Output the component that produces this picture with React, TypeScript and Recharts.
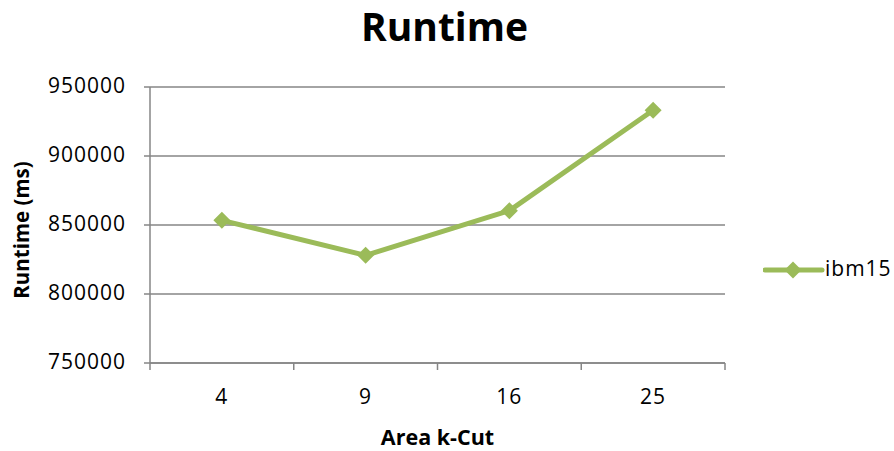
import React from 'react';
import { LineChart, Line, XAxis, YAxis, CartesianGrid } from 'recharts';

const categories = ['4', '9', '16', '25'];
const ibm15 = [853400, 828000, 860400, 933100];
const yTicks = [750000, 800000, 850000, 900000, 950000];
const seriesName = 'ibm15';

const data = categories.map((c, i) => ({ name: c, ibm15: ibm15[i] }));

const GREEN = '#9BBB59';
const GRAY = '#868686';
const FONT = '"Open Sans", sans-serif';

const W = 894;
const H = 451;
const PLOT_LEFT = 150;
const PLOT_RIGHT = 725;
const PLOT_TOP = 87;
const PLOT_BOTTOM = 363;
const BAND = (PLOT_RIGHT - PLOT_LEFT) / categories.length;

const Diamond = (props: any) => {
  const { cx, cy, index } = props;
  if (cx == null || cy == null) return <g key={index} />;
  const s = 8.5;
  return (
    <path
      key={index}
      d={`M${cx},${cy - s}L${cx + s},${cy}L${cx},${cy + s}L${cx - s},${cy}Z`}
      fill={GREEN}
    />
  );
};

const XTick = (props: any) => {
  const { x, y, payload, index } = props;
  const last = index === categories.length - 1;
  return (
    <g>
      <line x1={x - BAND / 2} y1={y} x2={x - BAND / 2} y2={y + 7} stroke={GRAY} strokeWidth={1.5} />
      {last && <line x1={x + BAND / 2} y1={y} x2={x + BAND / 2} y2={y + 7} stroke={GRAY} strokeWidth={1.5} />}
      <text x={x} y={y + 35} textAnchor="middle" dominantBaseline="middle" fontSize={21} letterSpacing={1} fill="#000" fontFamily={FONT}>
        {payload.value}
      </text>
    </g>
  );
};

const YTick = (props: any) => {
  const { y, payload } = props;
  return (
    <g>
      <line x1={PLOT_LEFT - 6} y1={y} x2={PLOT_LEFT} y2={y} stroke={GRAY} strokeWidth={1.5} />
      <text x={126} y={y} textAnchor="end" dominantBaseline="middle" fontSize={21} letterSpacing={1} fill="#000" fontFamily={FONT}>
        {payload.value}
      </text>
    </g>
  );
};

const YLabel = () => (
  <text
    x={24}
    y={230}
    transform="rotate(-90, 24, 230)"
    textAnchor="middle"
    dominantBaseline="middle"
    fontSize={20.5}
    fontWeight={700}
    fill="#000"
    fontFamily={FONT}
  >
    Runtime (ms)
  </text>
);

export default function App() {
  return (
    <div style={{ position: 'absolute', left: 0, top: 0, width: W, height: H, background: '#fff', fontFamily: FONT }}>
      <div style={{ position: 'absolute', left: 0, top: 0, width: 889, textAlign: 'center', fontSize: 39, fontWeight: 700, lineHeight: '52px' }}>
        Runtime
      </div>
      <svg style={{ position: 'absolute', left: 763, top: 255 }} width={131} height={30}>
        <line x1={2} y1={15} x2={59} y2={15} stroke={GREEN} strokeWidth={5} strokeLinecap="round" />
        <path d="M30,6.5L38.5,15L30,23.5L21.5,15Z" fill={GREEN} />
        <text x={62} y={15} dominantBaseline="middle" fontSize={21} letterSpacing={1} fontFamily={FONT} fill="#000">{seriesName}</text>
      </svg>
      <LineChart
        width={W}
        height={H}
        data={data}
        margin={{ top: PLOT_TOP, right: W - PLOT_RIGHT, bottom: 0, left: PLOT_LEFT - 100 }}
      >
        <CartesianGrid horizontal vertical={false} stroke={GRAY} strokeWidth={1.5} />
        <XAxis
          dataKey="name"
          stroke={GRAY}
          strokeWidth={1.5}
          padding={{ left: BAND / 2, right: BAND / 2 }}
          tickLine={false}
          tickSize={0}
          tickMargin={0}
          height={H - PLOT_BOTTOM}
          tick={<XTick />}
          label={{ value: 'Area k-Cut', position: 'insideTop', offset: 67, fontSize: 21.5, fontWeight: 700, fill: '#000', fontFamily: FONT }}
        />
        <YAxis
          width={100}
          domain={[750000, 950000]}
          ticks={yTicks}
          stroke={GRAY}
          strokeWidth={1.5}
          tickLine={false}
          tick={<YTick />}
          label={{ content: <YLabel /> }}
        />
        <Line
          type="linear"
          dataKey="ibm15"
          name={seriesName}
          stroke={GREEN}
          strokeWidth={5}
          dot={Diamond}
          activeDot={false}
          isAnimationActive={false}
        />
      </LineChart>
    </div>
  );
}
